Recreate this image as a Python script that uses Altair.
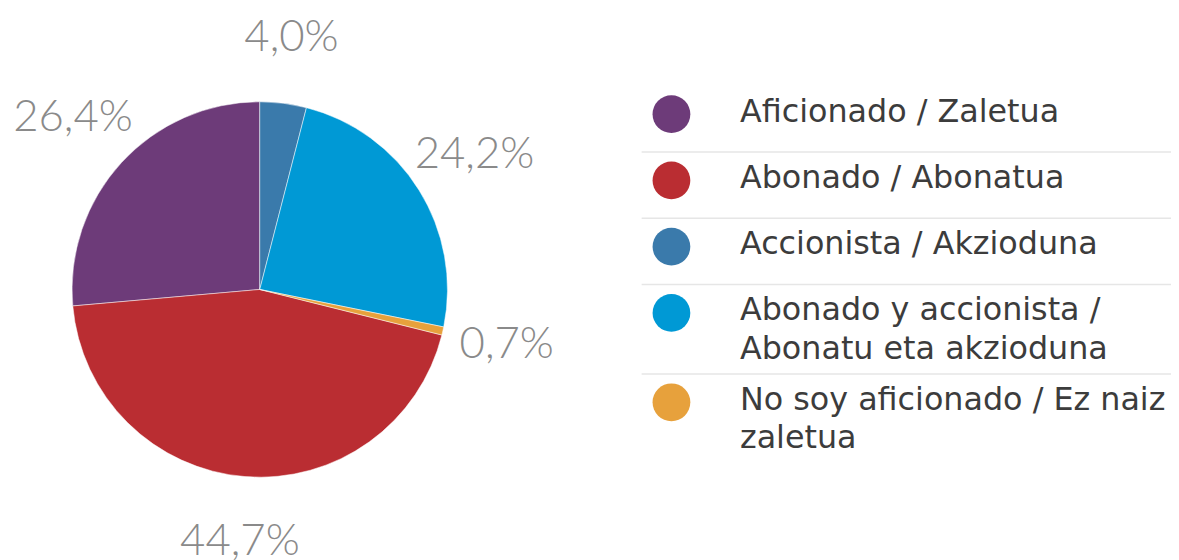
import altair as alt
import pandas as pd

# ---- data ----
categories = [
    "Aficionado / Zaletua",
    "Abonado / Abonatua",
    "Accionista / Akzioduna",
    "Abonado y accionista / Abonatu eta akzioduna",
    "No soy aficionado / Ez naiz zaletua",
]
legend_text = [
    "Aficionado / Zaletua",
    "Abonado / Abonatua",
    "Accionista / Akzioduna",
    "Abonado y accionista /\nAbonatu eta akzioduna",
    "No soy aficionado / Ez naiz\nzaletua",
]
values = [26.4, 44.7, 4.0, 24.2, 0.7]
slice_order = [4, 3, 0, 1, 2]  # clockwise position of each slice, from 12 o'clock
colors = ["#6D3B79", "#BA2D32", "#3A7AAB", "#0099D5", "#E7A13C"]

W, H = 1171, 552
CX, CY, R, LABEL_R = 253.5, 281.5, 189, 255

pie = pd.DataFrame({
    "cat": categories,
    "value": values,
    "ord": slice_order,
    "label": [f"{v:.1f}".replace(".", ",") + "%" for v in values],
})

# legend rows: height depends on number of text lines
rows = []
cy = 105.0
for i, (c, t) in enumerate(zip(categories, legend_text)):
    n = t.count("\n") + 1
    h = 66.7 + 23.3 * (n - 1)
    rows.append({"cat": c, "txt": t, "cy": cy, "ty": cy + 7.5, "sep": cy + h - 28.5,
                 "last": i == len(categories) - 1})
    cy += h
leg = pd.DataFrame(rows)

color = alt.Color("cat:N", scale=alt.Scale(domain=categories, range=colors), legend=None)
yscale = alt.Scale(domain=[0, H], reverse=True, nice=False, zero=False)

base = alt.Chart(pie).encode(
    theta=alt.Theta("value:Q", stack=True),
    order=alt.Order("ord:Q"),
)
arcs = base.mark_arc(outerRadius=R, stroke="white", strokeWidth=0.5).encode(
    color=color, x=alt.value(CX), y=alt.value(CY)
)
labels = base.mark_text(
    radius=LABEL_R, font="Lato", fontWeight=300, fontSize=44, color="#8A8A8A",
    align="center", baseline="middle"
).encode(text="label:N", x=alt.value(CX), y=alt.value(CY))

lbase = alt.Chart(leg)
dots = lbase.mark_point(shape="circle", filled=True, opacity=1, size=1444).encode(
    x=alt.value(668), y=alt.Y("cy:Q", scale=yscale, axis=None), color=color
)
texts = lbase.mark_text(
    font="DejaVu Sans", fontSize=32, color="#3C3C3C", align="left", baseline="alphabetic",
    lineBreak="\n", lineHeight=38.5
).encode(x=alt.value(737), y=alt.Y("ty:Q", scale=yscale, axis=None), text="txt:N")
seps = lbase.transform_filter("!datum.last").mark_rule(color="#E6E6E6", strokeWidth=1.5).encode(
    x=alt.value(638), x2=alt.value(W + 10), y=alt.Y("sep:Q", scale=yscale, axis=None)
)

chart = alt.layer(arcs, labels, seps, dots, texts).properties(
    width=W, height=H, padding=0, autosize=alt.AutoSizeParams(type="none")
).configure_view(stroke=None)

chart.save("out.html", embed_options={"renderer": "svg", "actions": False})
